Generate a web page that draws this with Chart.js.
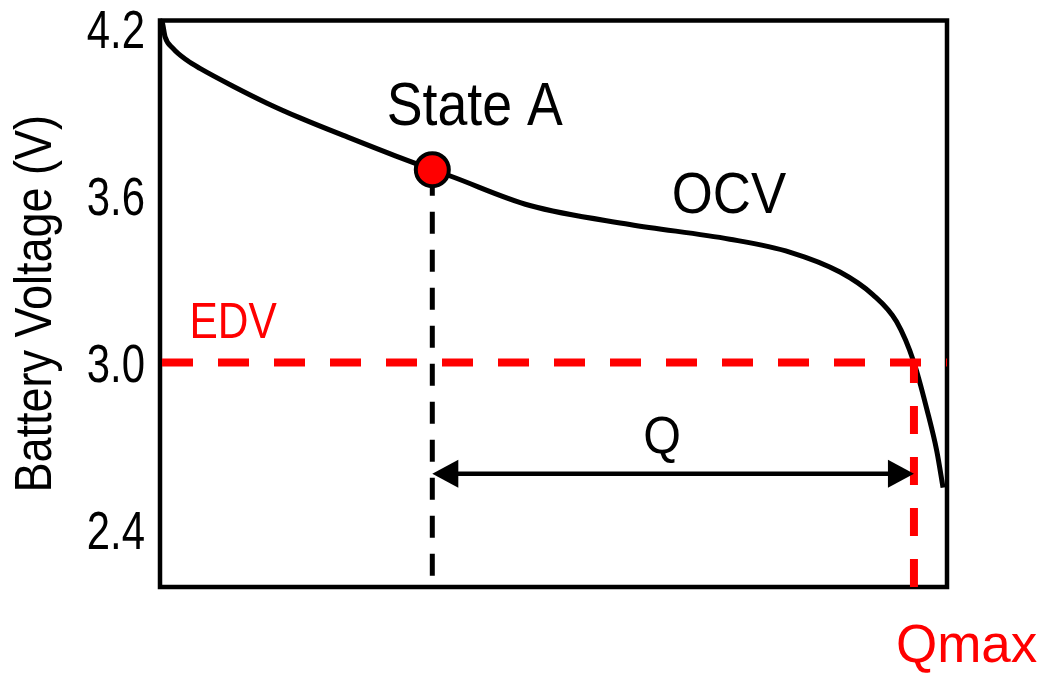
<!DOCTYPE html>
<html>
<head>
<meta charset="utf-8">
<script src="https://cdn.jsdelivr.net/npm/chart.js@4.4.0/dist/chart.umd.min.js"></script>
<style>
  html, body { margin: 0; padding: 0; background: #ffffff; }
  #wrap { width: 1044px; height: 675px; }
</style>
</head>
<body>
<div id="wrap"><canvas id="chart" width="1044" height="675"></canvas></div>
<script>
// OCV discharge curve, capacity in % of the x range, voltage in V
const capacity = [0, 0.25, 0.64, 1.65, 3.43, 5.08, 9.28, 13.6, 17.8, 24.1, 30.5, 34.6,
  36.8, 47.0, 59.7, 72.4, 80.1, 86.4, 90.6, 93.6, 95.8, 97.5, 98.7, 99.5];
const ocvVoltage = [4.229, 4.225, 4.171, 4.129, 4.086, 4.057, 3.993, 3.932, 3.879, 3.807, 3.736, 3.693,
  3.671, 3.564, 3.496, 3.443, 3.396, 3.325, 3.243, 3.146, 3.0, 2.825, 2.682, 2.55];

const voltageTicks = [2.4, 3.0, 3.6, 4.2];
const voltageRange = [2.193, 4.229];
const capacityRange = [0, 100];

const edvVoltage = 3.0;
const stateACapacity = 34.6;
const stateAVoltage = 3.693;
const qmaxCapacity = 95.8;
const arrowVoltage = 2.6;

const labelTexts = ["State A", "OCV", "EDV", "Q", "Qmax"];
const labelCapacity = [40.0, 72.3, 9.3, 63.8, 102.5];
const labelVoltage = [3.914, 3.596, 3.139, 2.725, 1.975];

const RED = "#ff0000";
const BLACK = "#000000";
const FONT = '"Liberation Sans", Arial, sans-serif';
// the source uses a condensed face, so text is squeezed horizontally
const TICK_STRETCH = 0.79;
const TITLE_STRETCH = 0.865;
const labelStyles = [
  { color: BLACK, size: 61, stretch: 0.88 },
  { color: BLACK, size: 58, stretch: 0.91 },
  { color: RED, size: 50, stretch: 0.85 },
  { color: BLACK, size: 51, stretch: 0.95 },
  { color: RED, size: 53, stretch: 1.0 },
];

class CondensedLinearScale extends Chart.LinearScale {
  drawLabels(chartArea) {
    const ctx = this.ctx;
    const anchorX = this.right - this.options.ticks.padding;
    ctx.save();
    ctx.translate(anchorX, 0);
    ctx.scale(TICK_STRETCH, 1);
    ctx.translate(-anchorX, 0);
    super.drawLabels(chartArea);
    ctx.restore();
  }

  drawTitle() {
    const ctx = this.ctx;
    const midY = (this.top + this.bottom) / 2;
    ctx.save();
    ctx.translate(0, midY);
    ctx.scale(1, TITLE_STRETCH);
    ctx.translate(0, -midY);
    super.drawTitle();
    ctx.restore();
  }
}
CondensedLinearScale.id = "condensedLinear";
CondensedLinearScale.defaults = Chart.LinearScale.defaults;
Chart.register(CondensedLinearScale);

function points(xs, ys) {
  return xs.map((x, i) => ({ x, y: ys[i] }));
}

const annotationPlugin = {
  id: "annotations",
  beforeDatasetsDraw(chart) {
    const { ctx, chartArea } = chart;
    ctx.save();
    ctx.strokeStyle = BLACK;
    ctx.lineWidth = 4.5;
    ctx.strokeRect(chartArea.left, chartArea.top,
      chartArea.right - chartArea.left, chartArea.bottom - chartArea.top);
    ctx.restore();
  },
  afterDatasetsDraw(chart) {
    const { ctx } = chart;
    const xScale = chart.scales.x;
    const yScale = chart.scales.y;
    const x1 = xScale.getPixelForValue(stateACapacity);
    const x2 = xScale.getPixelForValue(qmaxCapacity);
    const y = yScale.getPixelForValue(arrowVoltage);
    const headLen = 26;
    const headHalf = 14;

    ctx.save();
    ctx.strokeStyle = BLACK;
    ctx.fillStyle = BLACK;
    ctx.lineWidth = 4.5;
    ctx.beginPath();
    ctx.moveTo(x1 + headLen - 2, y);
    ctx.lineTo(x2 - headLen + 2, y);
    ctx.stroke();

    ctx.beginPath();
    ctx.moveTo(x1, y);
    ctx.lineTo(x1 + headLen, y - headHalf);
    ctx.lineTo(x1 + headLen, y + headHalf);
    ctx.closePath();
    ctx.fill();

    ctx.beginPath();
    ctx.moveTo(x2, y);
    ctx.lineTo(x2 - headLen, y - headHalf);
    ctx.lineTo(x2 - headLen, y + headHalf);
    ctx.closePath();
    ctx.fill();
    ctx.restore();
  },
  afterDraw(chart) {
    const { ctx } = chart;
    const xScale = chart.scales.x;
    const yScale = chart.scales.y;
    ctx.save();
    ctx.textAlign = "center";
    ctx.textBaseline = "middle";
    labelTexts.forEach((text, i) => {
      const style = labelStyles[i];
      const x = xScale.getPixelForValue(labelCapacity[i]);
      const y = yScale.getPixelForValue(labelVoltage[i]);
      ctx.save();
      ctx.translate(x, y);
      ctx.scale(style.stretch, 1);
      ctx.fillStyle = style.color;
      ctx.font = `${style.size}px ${FONT}`;
      ctx.fillText(text, 0, 0);
      ctx.restore();
    });
    ctx.restore();
  },
};

const datasets = [
  {
    label: "State A",
    data: [{ x: stateACapacity, y: stateAVoltage }],
    pointRadius: 16.5,
    pointBorderWidth: 4,
    pointBackgroundColor: RED,
    pointBorderColor: BLACK,
    showLine: false,
    order: 0,
  },
  {
    label: "Qmax",
    data: [{ x: qmaxCapacity, y: voltageRange[0] }, { x: qmaxCapacity, y: edvVoltage }],
    borderColor: RED,
    borderWidth: 8,
    borderDash: [28, 23],
    pointRadius: 0,
    showLine: true,
    clip: 10,
    order: 1,
  },
  {
    label: "EDV",
    data: [{ x: capacityRange[0], y: edvVoltage }, { x: capacityRange[1], y: edvVoltage }],
    borderColor: RED,
    borderWidth: 8,
    borderDash: [31, 25],
    borderDashOffset: 54,
    pointRadius: 0,
    showLine: true,
    order: 2,
  },
  {
    label: "OCV",
    data: points(capacity, ocvVoltage),
    borderColor: BLACK,
    borderWidth: 5,
    cubicInterpolationMode: "monotone",
    pointRadius: 0,
    showLine: true,
    clip: 4,
    order: 3,
  },
  {
    label: "State A drop",
    data: [{ x: stateACapacity, y: stateAVoltage }, { x: stateACapacity, y: voltageRange[0] }],
    borderColor: BLACK,
    borderWidth: 5,
    borderDash: [22, 16],
    borderDashOffset: 34,
    pointRadius: 0,
    showLine: true,
    order: 4,
  },
];

new Chart(document.getElementById("chart"), {
  type: "scatter",
  data: { datasets },
  options: {
    responsive: false,
    animation: false,
    devicePixelRatio: 1,
    layout: { padding: { top: 17, right: 97, bottom: 88, left: 0 } },
    plugins: {
      legend: { display: false },
      tooltip: { enabled: false },
    },
    scales: {
      x: {
        type: "linear",
        min: capacityRange[0],
        max: capacityRange[1],
        display: false,
      },
      y: {
        type: "condensedLinear",
        min: voltageRange[0],
        max: voltageRange[1],
        afterBuildTicks: (scale) => {
          scale.ticks = voltageTicks.map((value) => ({ value }));
        },
        afterFit: (scale) => {
          scale.width = 160;
          scale.paddingTop = 0;
          scale.paddingBottom = 0;
        },
        grid: { display: false, drawTicks: false },
        border: { display: false },
        ticks: {
          autoSkip: false,
          color: BLACK,
          padding: 15,
          labelOffset: 5,
          font: { family: FONT, size: 53 },
          callback: (value) => Number(value).toFixed(1),
        },
        title: {
          display: true,
          text: "Battery Voltage (V)",
          color: BLACK,
          font: { family: FONT, size: 52 },
          padding: { top: 5, bottom: 0 },
        },
      },
    },
  },
  plugins: [annotationPlugin],
});
</script>
</body>
</html>
